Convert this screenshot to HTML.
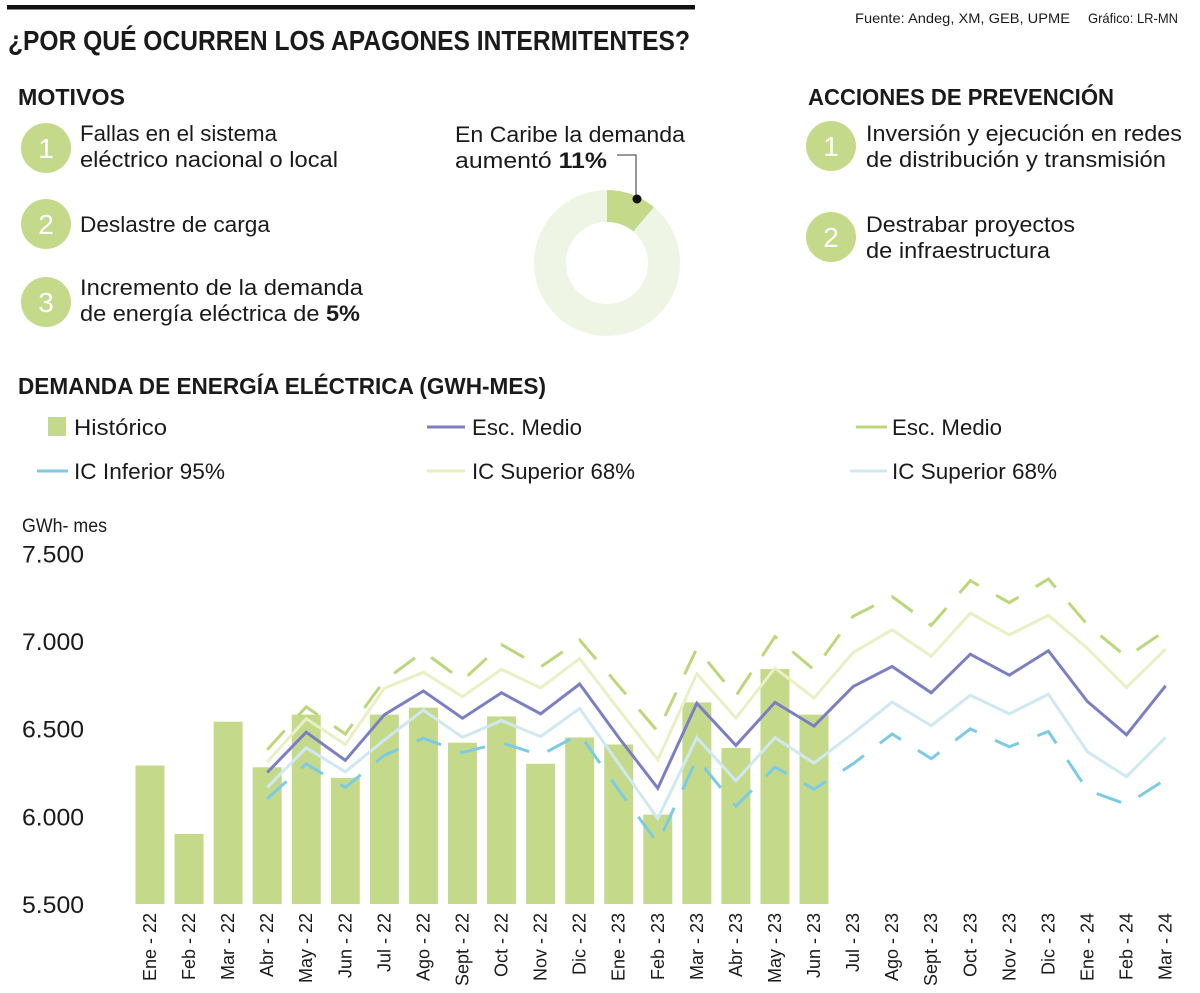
<!DOCTYPE html>
<html><head><meta charset="utf-8"><style>
html,body{margin:0;padding:0;background:#fff;}
svg{display:block;}
text{font-family:"Liberation Sans Narrow","Liberation Sans",sans-serif;fill:#1a1a1a;}
.b{font-weight:bold;}
</style></head><body>
<svg id="page" width="1200" height="993" viewBox="0 0 1200 993" xmlns="http://www.w3.org/2000/svg">
<rect x="7" y="5" width="688" height="4.5" fill="#111"/>
<text x="855" y="23" font-size="14" fill="#444" textLength="215" lengthAdjust="spacingAndGlyphs">Fuente: Andeg, XM, GEB, UPME</text>
<text x="1088" y="23" font-size="14" fill="#444" textLength="90" lengthAdjust="spacingAndGlyphs">Gráfico: LR-MN</text>
<text x="8" y="50" font-size="28" class="b" textLength="682" lengthAdjust="spacingAndGlyphs">¿POR QUÉ OCURREN LOS APAGONES INTERMITENTES?</text>

<text x="18" y="105" font-size="23" class="b" textLength="107" lengthAdjust="spacingAndGlyphs">MOTIVOS</text>
<g>
<circle cx="46" cy="148" r="25" fill="#c4da8a"/><text x="46" y="158" font-size="28" style="fill:#fff" text-anchor="middle">1</text>
<text x="80" y="141" font-size="22" textLength="197" lengthAdjust="spacingAndGlyphs">Fallas en el sistema</text>
<text x="80" y="167" font-size="22" textLength="258" lengthAdjust="spacingAndGlyphs">eléctrico nacional o local</text></g>
<g>
<circle cx="46" cy="224" r="25" fill="#c4da8a"/><text x="46" y="234" font-size="28" style="fill:#fff" text-anchor="middle">2</text>
<text x="80" y="232" font-size="22" textLength="190" lengthAdjust="spacingAndGlyphs">Deslastre de carga</text></g>
<g>
<circle cx="46" cy="302" r="25" fill="#c4da8a"/><text x="46" y="312" font-size="28" style="fill:#fff" text-anchor="middle">3</text>
<text x="80" y="295" font-size="22" textLength="283" lengthAdjust="spacingAndGlyphs">Incremento de la demanda</text>
<text x="80" y="321" font-size="22" textLength="280" lengthAdjust="spacingAndGlyphs">de energía eléctrica de <tspan class="b">5%</tspan></text></g>

<g>
<circle cx="607" cy="263" r="57" fill="none" stroke="#eef5e4" stroke-width="32"/>
<path d="M607 190 A73 73 0 0 1 653.9 207.1 L633.3 231.4 A41 41 0 0 0 607 222 Z" fill="#c4da8a"/>
<polyline points="617,155 636,155 636,196" fill="none" stroke="#333" stroke-width="1"/>
<circle cx="637" cy="199" r="4.5" fill="#111"/>
<text x="455" y="142" font-size="22" textLength="230" lengthAdjust="spacingAndGlyphs">En Caribe la demanda</text>
<text x="455" y="168" font-size="22" textLength="152" lengthAdjust="spacingAndGlyphs">aumentó <tspan class="b">11%</tspan></text></g>

<text x="808" y="105" font-size="23" class="b" textLength="306" lengthAdjust="spacingAndGlyphs">ACCIONES DE PREVENCIÓN</text>
<g>
<circle cx="831" cy="146" r="25" fill="#c4da8a"/><text x="831" y="156" font-size="28" style="fill:#fff" text-anchor="middle">1</text>
<text x="866" y="141" font-size="22" textLength="316" lengthAdjust="spacingAndGlyphs">Inversión y ejecución en redes</text>
<text x="866" y="167" font-size="22" textLength="300" lengthAdjust="spacingAndGlyphs">de distribución y transmisión</text></g>
<g>
<circle cx="831" cy="237" r="25" fill="#c4da8a"/><text x="831" y="247" font-size="28" style="fill:#fff" text-anchor="middle">2</text>
<text x="866" y="232" font-size="22" textLength="209" lengthAdjust="spacingAndGlyphs">Destrabar proyectos</text>
<text x="866" y="258" font-size="22" textLength="184" lengthAdjust="spacingAndGlyphs">de infraestructura</text></g>

<text x="18" y="394" font-size="23" class="b" textLength="528" lengthAdjust="spacingAndGlyphs">DEMANDA DE ENERGÍA ELÉCTRICA (GWH-MES)</text>

<g>
<g><rect x="48" y="417" width="18" height="19" fill="#c4da8a"/><text x="74" y="435" font-size="22" textLength="93" lengthAdjust="spacingAndGlyphs">Histórico</text></g>
<g><line x1="427" y1="427" x2="465" y2="427" stroke="#7b7fc1" stroke-width="3"/><text x="472" y="435" font-size="22" textLength="110" lengthAdjust="spacingAndGlyphs">Esc. Medio</text></g>
<g><line x1="856" y1="427" x2="887" y2="427" stroke="#bcd67a" stroke-width="3"/><text x="892" y="435" font-size="22" textLength="110" lengthAdjust="spacingAndGlyphs">Esc. Medio</text></g>
<g><line x1="37" y1="471" x2="68" y2="471" stroke="#7ccbe3" stroke-width="3"/><text x="74" y="479" font-size="22" textLength="151" lengthAdjust="spacingAndGlyphs">IC Inferior 95%</text></g>
<g><line x1="427" y1="471" x2="465" y2="471" stroke="#e8f0c4" stroke-width="3"/><text x="472" y="479" font-size="22" textLength="163" lengthAdjust="spacingAndGlyphs">IC Superior 68%</text></g>
<g><line x1="850" y1="471" x2="887" y2="471" stroke="#cfe8f1" stroke-width="3"/><text x="892" y="479" font-size="22" textLength="165" lengthAdjust="spacingAndGlyphs">IC Superior 68%</text></g>
</g>
<text x="22" y="532" font-size="19" textLength="85" lengthAdjust="spacingAndGlyphs">GWh- mes</text>
<g id="chart"></g>
</svg>
<script>
const categories=["Ene - 22","Feb - 22","Mar - 22","Abr - 22","May - 22","Jun - 22","Jul - 22","Ago - 22","Sept - 22","Oct - 22","Nov - 22","Dic - 22","Ene - 23","Feb - 23","Mar - 23","Abr - 23","May - 23","Jun - 23","Jul - 23","Ago - 23","Sept - 23","Oct - 23","Nov - 23","Dic - 23","Ene - 24","Feb - 24","Mar - 24"];
const historico=[6290,5900,6540,6280,6580,6220,6580,6620,6420,6570,6300,6450,6410,6010,6650,6390,6840,6580];
const escMedio=[6250,6480,6320,6580,6715,6560,6705,6585,6755,6450,6160,6645,6405,6650,6515,6740,6855,6705,6925,6805,6945,6655,6465,6745];
const escMedioAlt=[6380,6625,6470,6775,6940,6775,6980,6852,7006,6745,6484,6958,6687,7025,6836,7141,7254,7089,7344,7219,7354,7093,6909,7060];
const icInferior95=[6100,6300,6165,6349,6445,6364,6420,6349,6470,6150,5846,6329,6058,6281,6155,6300,6470,6329,6499,6397,6484,6150,6068,6210];
const icSuperior68a=[6310,6557,6410,6731,6822,6683,6838,6733,6900,6610,6323,6813,6561,6846,6675,6934,7064,6913,7159,7035,7147,6958,6735,6954];
const icSuperior68b=[6165,6391,6254,6436,6606,6451,6546,6455,6615,6300,5987,6449,6203,6449,6304,6474,6652,6517,6691,6585,6697,6368,6227,6451];
const forecastStart=3;
const yTicks=[5500,6000,6500,7000,7500];
const yTickLabels=["5.500","6.000","6.500","7.000","7.500"];

const NS="http://www.w3.org/2000/svg";
const g=document.getElementById('chart');
const x=i=>150+i*39.06;
const y=v=>904-(v-5500)*0.1753;
function mk(t,a){const e=document.createElementNS(NS,t);for(const k in a)e.setAttribute(k,a[k]);g.appendChild(e);return e;}

yTicks.forEach((v,i)=>{
  const t=mk('text',{x:22,y:y(v)+9,'font-size':24,textLength:62,lengthAdjust:'spacingAndGlyphs'});
  t.textContent=yTickLabels[i];
  
  
});
historico.forEach((v,i)=>{
  const r=mk('rect',{x:x(i)-14.5,y:y(v),width:29,height:y(5500)-y(v),fill:'#c4da8a'});
  
  
});
function line(arr,color,dash,name){
  const pts=arr.map((v,k)=>x(k+forecastStart).toFixed(1)+','+y(v).toFixed(1)).join(' ');
  const a={points:pts,fill:'none',stroke:color,'stroke-width':3,'stroke-linejoin':'miter'};
  if(dash)a['stroke-dasharray']=dash;
  const p=mk('polyline',a);
  
  
}
line(icSuperior68a,'#e8f0c4',null,'line-ic-superior-68-yellow');
line(icSuperior68b,'#cfe8f1',null,'line-ic-superior-68-blue');
line(escMedioAlt,'#bcd67a','26 20','line-esc-medio-green');
line(icInferior95,'#7ccbe3','26 20','line-ic-inferior-95');
line(escMedio,'#7b7fc1',null,'line-esc-medio');
categories.forEach((c,i)=>{
  const t=mk('text',{x:0,y:0,'font-size':18,'text-anchor':'end',transform:`translate(${x(i)+6},913) rotate(-90)`});
  t.textContent=c;
  
  
});
</script>
</body></html>
